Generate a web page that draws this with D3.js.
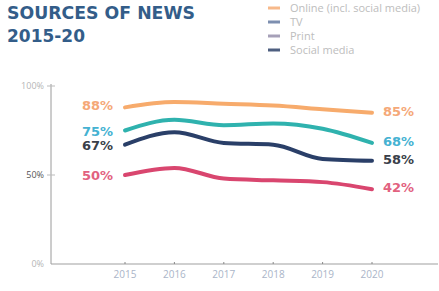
<!DOCTYPE html>
<html>
<head>
<meta charset="utf-8">
<script src="https://cdn.jsdelivr.net/npm/d3@7"></script>
<style>
  body { margin: 0; background: #fff; }
  svg { display: block; }
</style>
</head>
<body>
<svg width="439" height="291"></svg>
<script>
// Data
const years = [2015, 2016, 2017, 2018, 2019, 2020];
const online = [88, 91, 90, 89, 87, 85];
const tv = [75, 81, 78, 79, 76, 68];
const socialMedia = [67, 74, 68, 67, 59, 58];
const print = [50, 54, 48, 47, 46, 42];
const yTicks = [0, 50, 100];
const legendNames = ["Online (incl. social media)", "TV", "Print", "Social media"];

const series = [
    { name: "Online (incl. social media)", values: online, line: "#f7ab6c", label: "#f5a878" },
    { name: "TV", values: tv, line: "#2fb2ae", label: "#45b2d2" },
    { name: "Social media", values: socialMedia, line: "#2a3f68", label: "#3a3f4a" },
    { name: "Print", values: print, line: "#d9466f", label: "#e2627f" }
];
const legendColors = { "Online (incl. social media)": "#f7b98a", "TV": "#7d8fb0", "Print": "#a6a0b8", "Social media": "#4e5f80" };

const svg = d3.select("svg");

// Scales
const x = d3.scalePoint().domain(years).range([125, 372]);
const y = d3.scaleLinear().domain([0, 100]).range([264, 86]);

// Title
svg.append("text").attr("x", 7).attr("y", 19)
    .attr("font-family", "DejaVu Sans").attr("font-weight", "bold").attr("font-size", 18)
    .attr("fill", "#335d89").attr("textLength", 188).attr("lengthAdjust", "spacingAndGlyphs")
    .text("SOURCES OF NEWS");
svg.append("text").attr("x", 7).attr("y", 42)
    .attr("font-family", "DejaVu Sans").attr("font-weight", "bold").attr("font-size", 17)
    .attr("fill", "#335d89").attr("textLength", 78).attr("lengthAdjust", "spacingAndGlyphs")
    .text("2015-20");

// Legend
const legend = svg.append("g");
legendNames.forEach((n, i) => {
    const yy = 8 + i * 14;
    legend.append("line").attr("x1", 268).attr("x2", 280).attr("y1", yy).attr("y2", yy)
        .attr("stroke", legendColors[n]).attr("stroke-width", 3);
    legend.append("text").attr("x", 290).attr("y", yy + 4)
        .attr("font-family", "Open Sans").attr("font-size", 11)
        .attr("fill", "#bdbdbd").text(n);
});

// Axes
svg.append("line").attr("x1", 51).attr("x2", 51).attr("y1", y(100) - 2).attr("y2", y(0))
    .attr("stroke", "#9a9a9a").attr("stroke-width", 1);
svg.append("line").attr("x1", 51).attr("x2", 438).attr("y1", y(0)).attr("y2", y(0))
    .attr("stroke", "#a0a0a0").attr("stroke-width", 1.2);

svg.selectAll(".ytick").data(yTicks).enter().append("text")
    .attr("x", 44).attr("y", d => y(d) + 3)
    .attr("text-anchor", "end")
    .attr("font-family", "Open Sans").attr("font-size", 9)
    .attr("fill", d => d === 50 ? "#555" : "#b5b5b5")
    .text(d => d + "%");
svg.selectAll(".ytickmark").data(yTicks.filter(d => d > 0)).enter().append("line")
    .attr("x1", 47).attr("x2", 55).attr("y1", d => y(d)).attr("y2", d => y(d))
    .attr("stroke", "#bbb");

svg.selectAll(".xtick").data(years).enter().append("line")
    .attr("x1", d => x(d)).attr("x2", d => x(d))
    .attr("y1", y(0) - 2).attr("y2", y(0))
    .attr("stroke", "#888");
svg.selectAll(".xlabel").data(years).enter().append("text")
    .attr("x", d => x(d)).attr("y", 278)
    .attr("text-anchor", "middle")
    .attr("font-family", "Open Sans").attr("font-size", 10)
    .attr("fill", "#aab5c8")
    .text(d => d);

// Lines
const line = d3.line()
    .x((d, i) => x(years[i]))
    .y(d => y(d))
    .curve(d3.curveMonotoneX);

svg.selectAll(".series").data(series).enter().append("path")
    .attr("d", d => line(d.values))
    .attr("fill", "none")
    .attr("stroke", d => d.line)
    .attr("stroke-width", 4)
    .attr("stroke-linecap", "round");

// End labels
svg.selectAll(".startlabel").data(series).enter().append("text")
    .attr("x", 113).attr("y", d => y(d.values[0]) + 5 + (d.name === "Online (incl. social media)" ? -2 : 0))
    .attr("text-anchor", "end")
    .attr("font-family", "DejaVu Sans").attr("font-weight", "bold").attr("font-size", 13)
    .attr("fill", d => d.label)
    .text(d => d.values[0] + "%");
svg.selectAll(".endlabel").data(series).enter().append("text")
    .attr("x", 383).attr("y", d => y(d.values[5]) + 5 - 2)
    .attr("font-family", "DejaVu Sans").attr("font-weight", "bold").attr("font-size", 13)
    .attr("fill", d => d.label)
    .text(d => d.values[5] + "%");
</script>
</body>
</html>
